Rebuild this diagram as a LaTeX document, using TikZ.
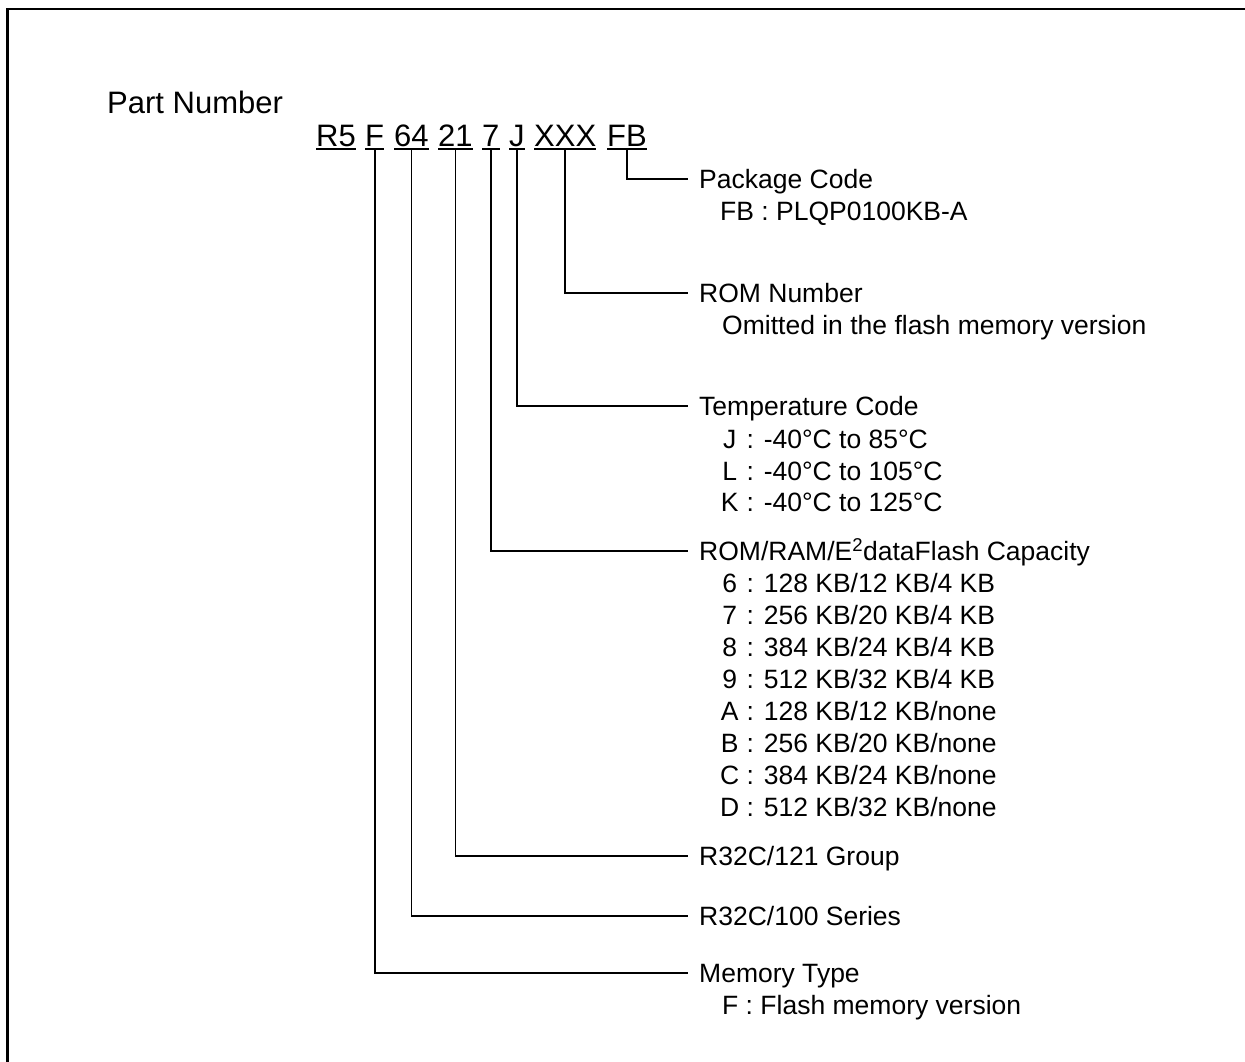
\documentclass[tikz,border=0pt]{standalone}
\usepackage{fontspec}
\setmainfont{Liberation Sans}
\newcommand\lblfont{\fontsize{26.5}{32}\selectfont}
\newcommand\kbx[1]{\makebox[0.72em][c]{#1}}
\begin{document}
\begin{tikzpicture}[x=1pt,y=-1pt,
  conn/.style={draw=black, line width=1.8pt},
  uline/.style={draw=black, line width=2pt},
  seg/.style={inner sep=0pt, anchor=base west, font=\fontsize{31}{37}\selectfont},
  lbl/.style={inner xsep=11pt, inner ysep=0pt, anchor=west, text height=19pt, text depth=0pt, font=\lblfont},
  sub/.style={inner sep=0pt, anchor=base west, font=\lblfont}]
\useasboundingbox (0,0) rectangle (1245,1061);
% frame
\draw[line width=2.8pt] (7.5,1075) -- (7.5,9) -- (1260,9);
% title
\node[seg] (title) at (107,113) {Part Number};
% part number segments
\node[seg] (sR) at (316,146) {R5};
\node[seg] (sF) at (365,146) {F};
\node[seg] (s64) at (394,146) {64};
\node[seg] (s21) at (438,146) {21};
\node[seg] (s7) at (482,146) {7};
\node[seg] (sJ) at (509,146) {J};
\node[seg] (sX) at (534,146) {XXX};
\node[seg] (sFB) at (607,146) {FB};
\foreach \s in {sR,sF,s64,s21,s7,sJ,sX,sFB}
  \draw[uline] ([yshift=-3pt]\s.base west) -- ([yshift=-3pt]\s.base east);
% labels
\node[lbl] (pkg) at (688,179) {Package Code};
\node[sub] (pkg1) at (720,220.5) {FB : PLQP0100KB-A};
\node[lbl] (rom) at (688,293) {ROM Number};
\node[sub] (rom1) at (722,334.5) {Omitted in the flash memory version};
\node[lbl] (tmp) at (688,406) {Temperature Code};
\node[sub] (tmp1) at (720,448.5) {\kbx{J} : -40°C to 85°C};
\node[sub] (tmp2) at (720,480) {\kbx{L} : -40°C to 105°C};
\node[sub] (tmp3) at (720,511.5) {\kbx{K} : -40°C to 125°C};
\node[lbl] (cap) at (688,551) {ROM/RAM/E\textsuperscript{2}dataFlash Capacity};
\node[sub] (cap1) at (720,592.5) {\kbx{6} : 128 KB/12 KB/4 KB};
\node[sub] (cap2) at (720,624.5) {\kbx{7} : 256 KB/20 KB/4 KB};
\node[sub] (cap3) at (720,656.5) {\kbx{8} : 384 KB/24 KB/4 KB};
\node[sub] (cap4) at (720,688.5) {\kbx{9} : 512 KB/32 KB/4 KB};
\node[sub] (cap5) at (720,720.5) {\kbx{A} : 128 KB/12 KB/none};
\node[sub] (cap6) at (720,752.5) {\kbx{B} : 256 KB/20 KB/none};
\node[sub] (cap7) at (720,784.5) {\kbx{C} : 384 KB/24 KB/none};
\node[sub] (cap8) at (720,816.5) {\kbx{D} : 512 KB/32 KB/none};
\node[lbl] (grp) at (688,856) {R32C/121 Group};
\node[lbl] (ser) at (688,916) {R32C/100 Series};
\node[lbl] (mem) at (688,973) {Memory Type};
\node[sub] (mem1) at (722,1014.5) {F : Flash memory version};
% connectors
\draw[conn] ([yshift=-3pt]sFB.south) |- (pkg.west);
\draw[conn] ([yshift=-3pt]sX.south) |- (rom.west);
\draw[conn] ([yshift=-3pt]sJ.south) |- (tmp.west);
\draw[conn] ([yshift=-3pt]s7.south) |- (cap.west);
\draw[conn] ([yshift=-3pt]s21.south) |- (grp.west);
\draw[conn] ([yshift=-3pt]s64.south) |- (ser.west);
\draw[conn] ([yshift=-3pt]sF.south) |- (mem.west);
\end{tikzpicture}
\end{document}
